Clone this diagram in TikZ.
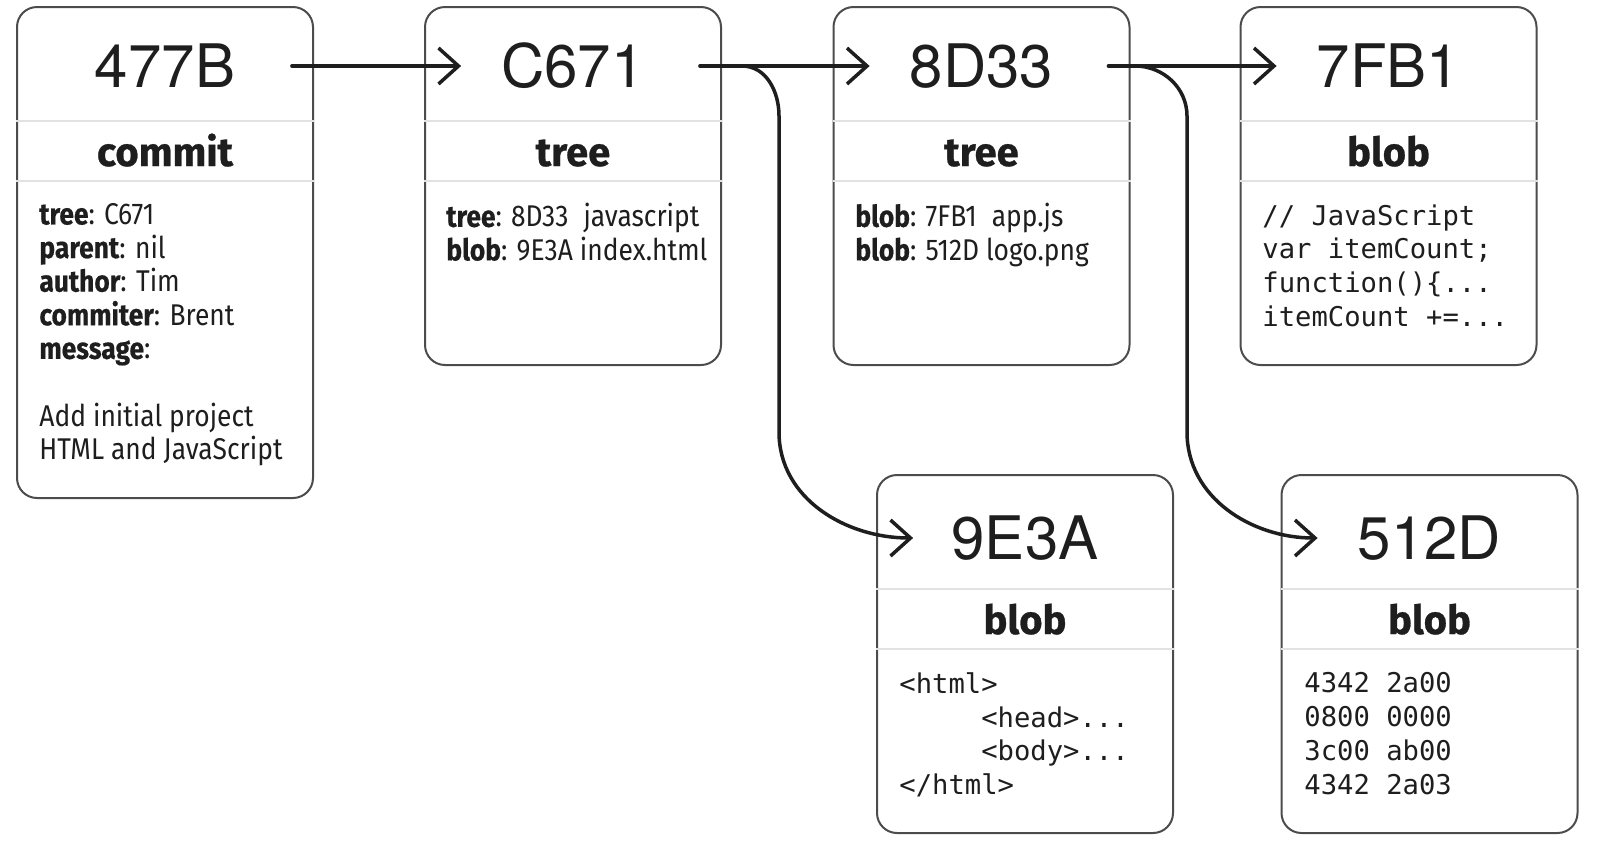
\documentclass[tikz,border=0pt]{standalone}
\usepackage{fontspec}
\setmainfont{Fira Sans}[FakeStretch=0.88, BoldFeatures={FakeBold=0.5}]
\setmonofont{DejaVu Sans Mono}
\newfontfamily\kindfont{Fira Sans}[BoldFeatures={FakeBold=0.7}]
\newfontfamily\hashfont{TeX Gyre Heros}
\usetikzlibrary{arrows.meta}

\definecolor{ink}{HTML}{1E1E1E}
\definecolor{boxgray}{HTML}{4C4C4C}
\definecolor{rulegray}{HTML}{E2E2E2}

\tikzset{
	objbox/.style={draw=boxgray, fill=white, line width=1pt, rounded corners=10pt, minimum width=148pt, inner sep=0pt},
	hash/.style={font=\hashfont\fontsize{30}{36}\selectfont, text=ink, minimum width=111.5pt, inner sep=0pt},
	kind/.style={font=\kindfont\bfseries\fontsize{20}{24}\selectfont, text=ink, anchor=base, inner sep=0pt},
	body/.style={font=\fontsize{15}{16.8}\selectfont, text=ink, align=left, anchor=north west, inner sep=0pt},
	code/.style={font=\ttfamily\fontsize{13.6}{16.9}\selectfont, text=ink, align=left, anchor=north west, inner sep=0pt},
	divider/.style={draw=rulegray, line width=1pt},
	link/.style={draw=ink, line width=1.75pt, line cap=round, -{Straight Barb[length=10pt,width=18pt]}},
	chain/.style={link, shorten <=7.5pt}
}

\begin{document}
\begin{tikzpicture}[x=0.5pt, y=-0.5pt]
	\useasboundingbox (0,0) rectangle (1600,847);

	\node[objbox, minimum height=245.5pt] (b477b) at (165,252.5) {};
	\node[objbox, minimum height=179pt] (bc671) at (573,186) {};
	\node[objbox, minimum height=179pt] (b8d33) at (981.5,186) {};
	\node[objbox, minimum height=179pt] (b7fb1) at (1388.5,186) {};
	\node[objbox, minimum height=179pt] (b9e3a) at (1025,654) {};
	\node[objbox, minimum height=179pt] (b512d) at (1429.5,654) {};

	\draw[divider] ([yshift=-57.5pt]b477b.north west) -- ([yshift=-57.5pt]b477b.north east);
	\draw[divider] ([yshift=-87.5pt]b477b.north west) -- ([yshift=-87.5pt]b477b.north east);
	\draw[divider] ([yshift=-57.5pt]bc671.north west) -- ([yshift=-57.5pt]bc671.north east);
	\draw[divider] ([yshift=-87.5pt]bc671.north west) -- ([yshift=-87.5pt]bc671.north east);
	\draw[divider] ([yshift=-57.5pt]b8d33.north west) -- ([yshift=-57.5pt]b8d33.north east);
	\draw[divider] ([yshift=-87.5pt]b8d33.north west) -- ([yshift=-87.5pt]b8d33.north east);
	\draw[divider] ([yshift=-57.5pt]b7fb1.north west) -- ([yshift=-57.5pt]b7fb1.north east);
	\draw[divider] ([yshift=-87.5pt]b7fb1.north west) -- ([yshift=-87.5pt]b7fb1.north east);
	\draw[divider] ([yshift=-57.5pt]b9e3a.north west) -- ([yshift=-57.5pt]b9e3a.north east);
	\draw[divider] ([yshift=-87.5pt]b9e3a.north west) -- ([yshift=-87.5pt]b9e3a.north east);
	\draw[divider] ([yshift=-57.5pt]b512d.north west) -- ([yshift=-57.5pt]b512d.north east);
	\draw[divider] ([yshift=-87.5pt]b512d.north west) -- ([yshift=-87.5pt]b512d.north east);

	\node[hash] (h477b) at (165,66) {477B};
	\node[hash] (hc671) at (573,66) {C671};
	\node[hash] (h8d33) at (981.5,66) {8D33};
	\node[hash] (h7fb1) at (1388.5,66) {7FB1};
	\node[hash] (h9e3a) at (1025,538) {9E3A};
	\node[hash] (h512d) at (1429.5,538) {512D};

	\node[kind] (k477b) at (165,166) {commit};
	\node[kind] (kc671) at (573,166) {tree};
	\node[kind] (k8d33) at (981.5,166) {tree};
	\node[kind] (k7fb1) at (1388.5,166) {blob};
	\node[kind] (k9e3a) at (1025,634) {blob};
	\node[kind] (k512d) at (1429.5,634) {blob};

	\node[body] (t477b) at (39,203) {\textbf{tree}: C671\\ \textbf{parent}: nil\\ \textbf{author}: Tim\\ \textbf{commiter}: Brent\\ \textbf{message}:\\[16.8pt] Add initial project\\ HTML and JavaScript};
	\node[body] (tc671) at (446,203) {\textbf{tree}: 8D33\enspace javascript\\ \textbf{blob}: 9E3A index.html};
	\node[body] (t8d33) at (855,203) {\textbf{blob}: 7FB1\enspace app.js\\ \textbf{blob}: 512D logo.png};
	\node[code] (t7fb1) at (1262,204) {// JavaScript\\ var itemCount;\\ function()\{...\\ itemCount +=...};
	\node[code] (t9e3a) at (899,672) {<html>\\ \phantom{xxxxx}<head>...\\ \phantom{xxxxx}<body>...\\ </html>};
	\node[code] (t512d) at (1304,672) {4342 2a00\\ 0800 0000\\ 3c00 ab00\\ 4342 2a03};

	\coordinate (fork1) at (742,66);
	\coordinate (fork2) at (1135,66);

	\draw[chain] (h477b) -- (hc671);
	\draw[chain] (hc671) -- (h8d33);
	\draw[chain] (h8d33) -- (h7fb1);
	\draw[link] (fork1) to[out=0,in=90] ++(37,50) -- ++(0,316) to[out=-90,in=180] (h9e3a.west);
	\draw[link] (fork2) to[out=0,in=90] ++(52,50) -- ++(0,316) to[out=-90,in=180] (h512d.west);
\end{tikzpicture}
\end{document}
